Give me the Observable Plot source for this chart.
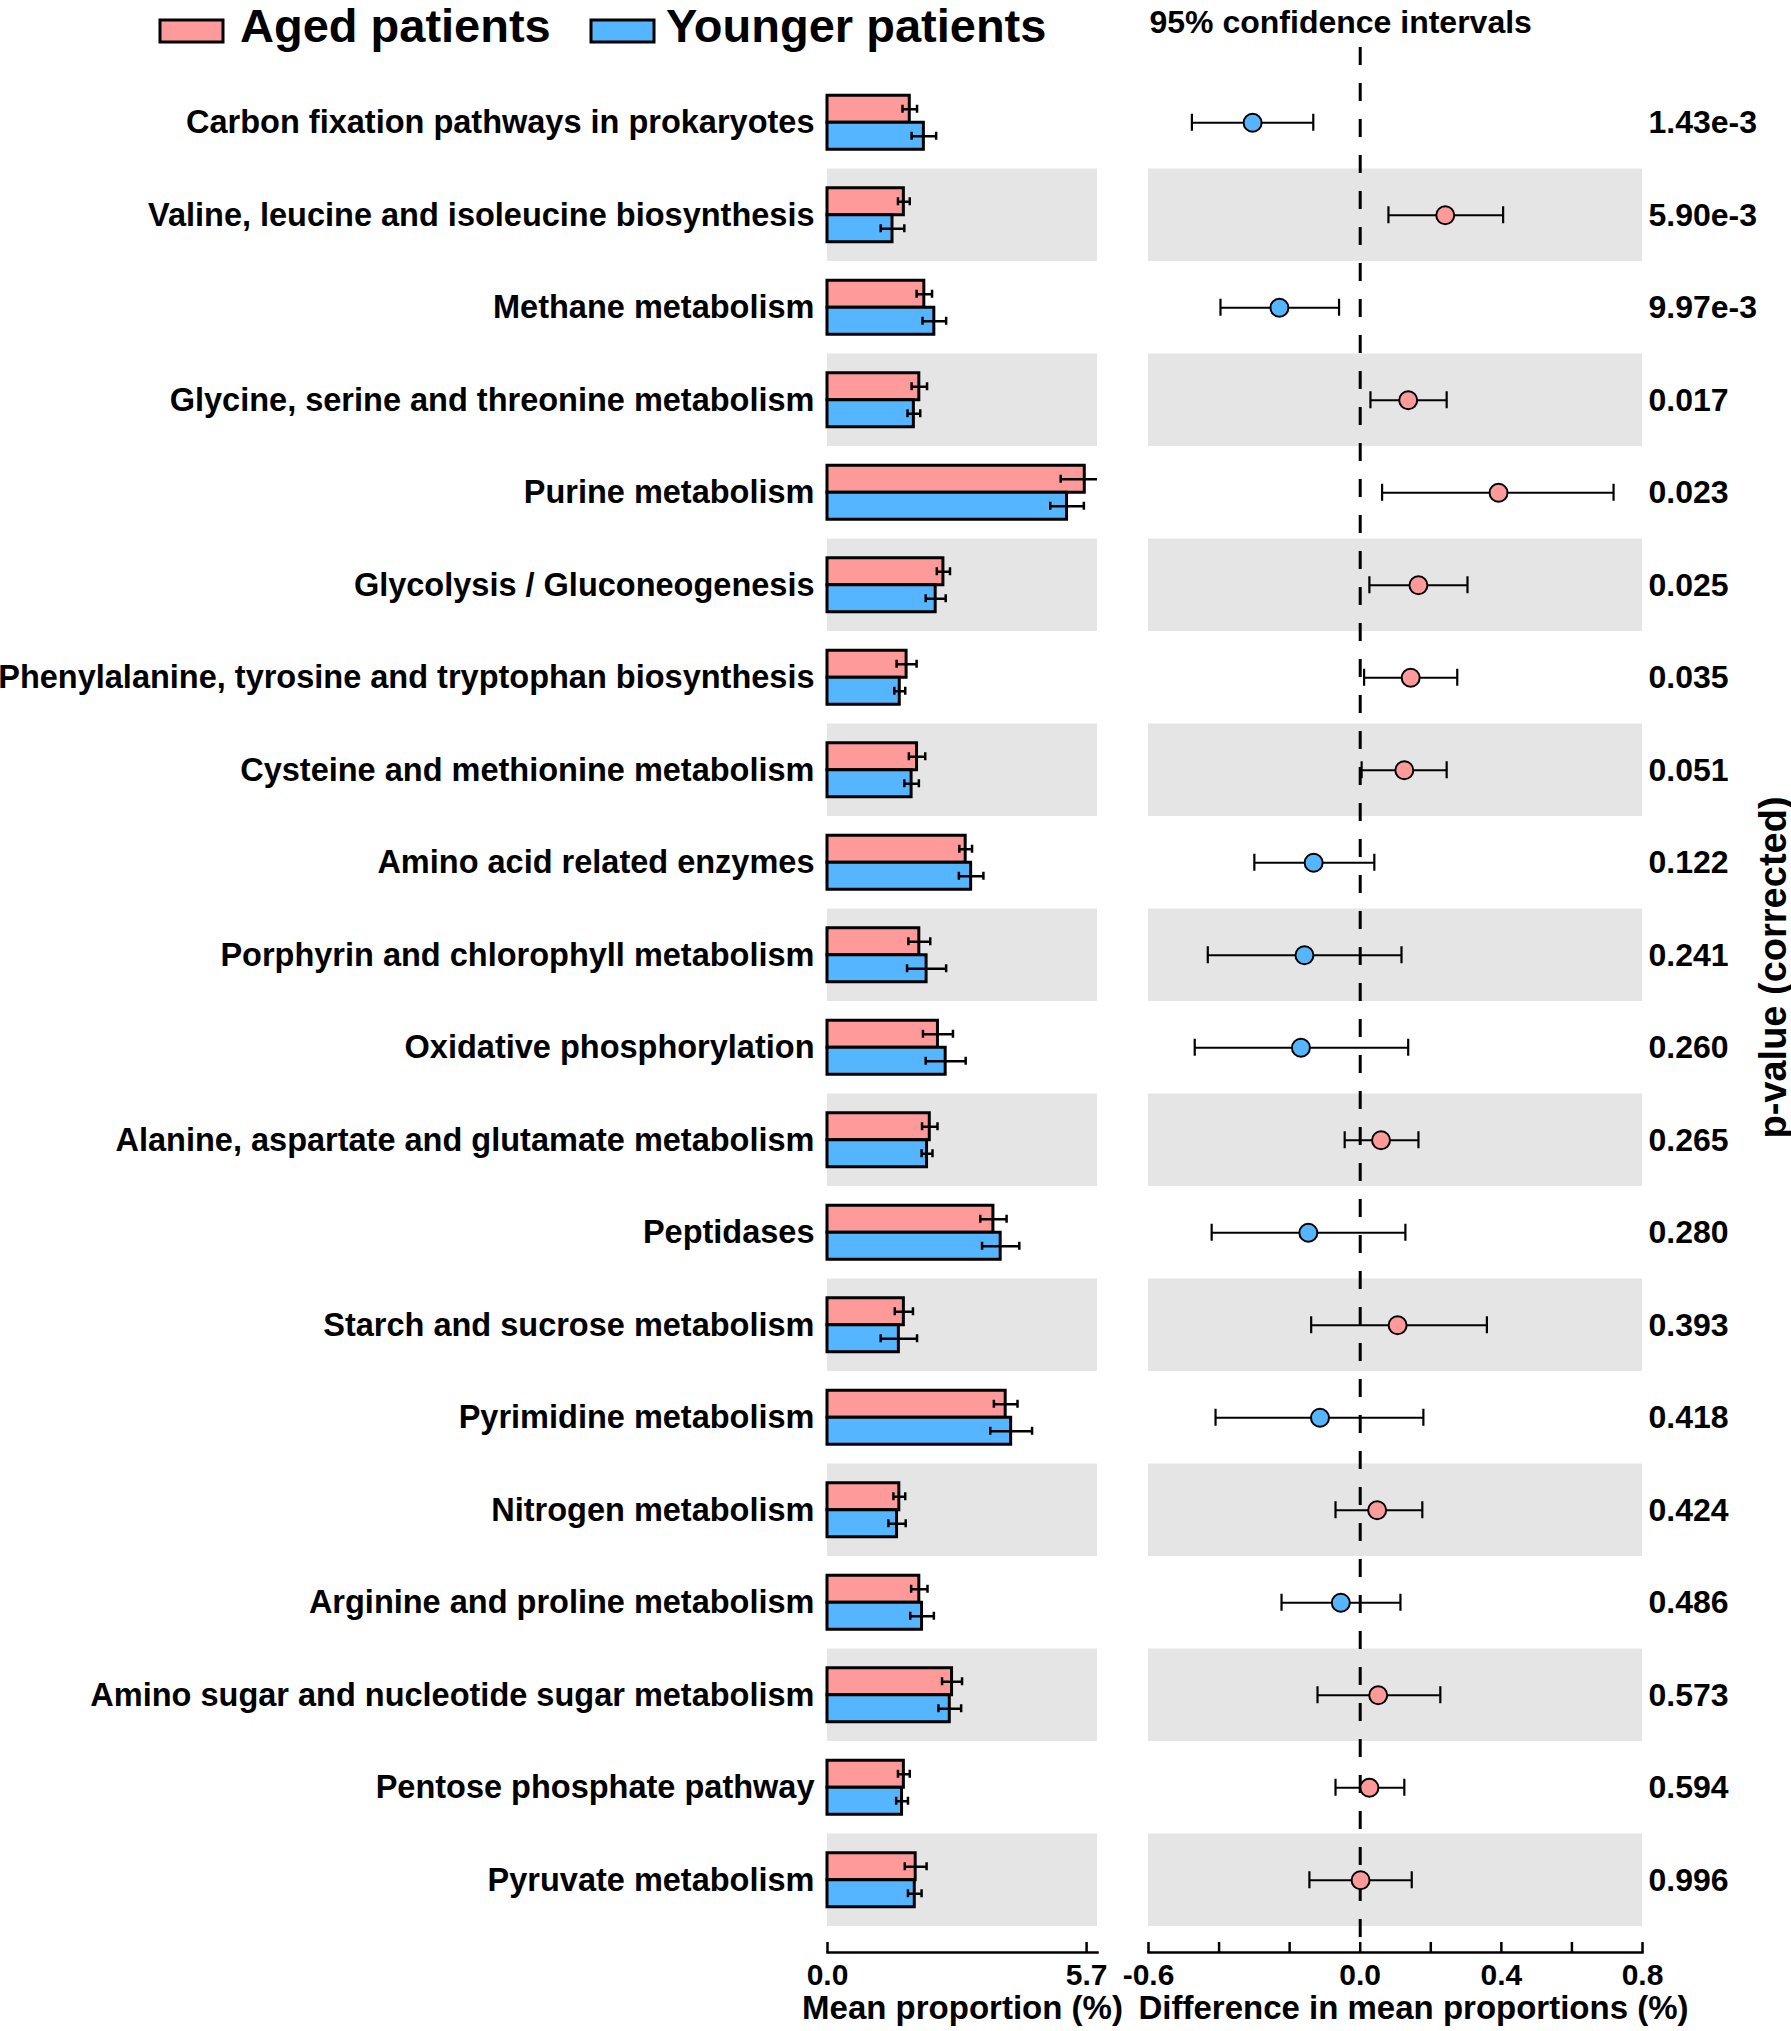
<!DOCTYPE html>
<html>
<head>
<meta charset="utf-8">
<script src="https://cdn.jsdelivr.net/npm/d3@7"></script>
<script src="https://cdn.jsdelivr.net/npm/@observablehq/plot@0.6"></script>
<style>
  body { margin: 0; background: #fff; }
  #wrap { position: relative; width: 1791px; height: 2031px; background: #fff; }
  #wrap > svg { position: absolute; top: 0; }
</style>
</head>
<body>
<div id="wrap"></div>
<script>
// ---------------- data ----------------
const categories = [
  "Carbon fixation pathways in prokaryotes",
  "Valine, leucine and isoleucine biosynthesis",
  "Methane metabolism",
  "Glycine, serine and threonine metabolism",
  "Purine metabolism",
  "Glycolysis / Gluconeogenesis",
  "Phenylalanine, tyrosine and tryptophan biosynthesis",
  "Cysteine and methionine metabolism",
  "Amino acid related enzymes",
  "Porphyrin and chlorophyll metabolism",
  "Oxidative phosphorylation",
  "Alanine, aspartate and glutamate metabolism",
  "Peptidases",
  "Starch and sucrose metabolism",
  "Pyrimidine metabolism",
  "Nitrogen metabolism",
  "Arginine and proline metabolism",
  "Amino sugar and nucleotide sugar metabolism",
  "Pentose phosphate pathway",
  "Pyruvate metabolism"
];
const agedMean  = [1.81, 1.68, 2.13, 2.02, 5.66, 2.55, 1.74, 1.97, 3.04, 2.02, 2.43, 2.25, 3.65, 1.68, 3.92, 1.58, 2.02, 2.74, 1.68, 1.94];
const agedErr   = [0.16, 0.13, 0.17, 0.17, 0.53, 0.145, 0.22, 0.18, 0.14, 0.24, 0.33, 0.17, 0.29, 0.20, 0.26, 0.13, 0.18, 0.22, 0.13, 0.24];
const youngMean = [2.12, 1.43, 2.35, 1.90, 5.27, 2.38, 1.59, 1.85, 3.16, 2.18, 2.60, 2.19, 3.81, 1.57, 4.04, 1.53, 2.08, 2.69, 1.64, 1.92];
const youngErr  = [0.27, 0.26, 0.26, 0.14, 0.37, 0.22, 0.12, 0.16, 0.27, 0.43, 0.44, 0.12, 0.41, 0.40, 0.46, 0.19, 0.26, 0.25, 0.13, 0.15];
const diffMean  = [-0.305, 0.241, -0.229, 0.136, 0.392, 0.165, 0.143, 0.125, -0.132, -0.158, -0.168, 0.059, -0.147, 0.106, -0.114, 0.048, -0.055, 0.051, 0.026, 0.001];
const ciLow     = [-0.477, 0.080, -0.396, 0.029, 0.062, 0.026, 0.011, 0.004, -0.300, -0.432, -0.469, -0.044, -0.421, -0.139, -0.410, -0.070, -0.223, -0.121, -0.070, -0.144];
const ciHigh    = [-0.133, 0.405, -0.060, 0.245, 0.718, 0.304, 0.275, 0.245, 0.040, 0.117, 0.136, 0.165, 0.128, 0.359, 0.179, 0.176, 0.114, 0.227, 0.125, 0.146];
const pValues   = ["1.43e-3", "5.90e-3", "9.97e-3", "0.017", "0.023", "0.025", "0.035", "0.051", "0.122", "0.241", "0.260", "0.265", "0.280", "0.393", "0.418", "0.424", "0.486", "0.573", "0.594", "0.996"];

const groups = ["Aged patients", "Younger patients"];
const groupColors = ["#ff9a9a", "#55b5fe"];
const meanTicks = [0, 5.7];
const meanDomain = [0, 5.94];
const diffTicks = [-0.6, -0.4, -0.2, 0, 0.2, 0.4, 0.6, 0.8];
const diffTickLabels = [-0.6, 0, 0.4, 0.8];
const diffDomain = [-0.6, 0.8];
const meanTitle = "Mean proportion (%)";
const diffTitle = "Difference in mean proportions (%)";
const ciTitle = "95% confidence intervals";
const pTitle = "p-value (corrected)";

// ---------------- layout ----------------
const H = 2031;
const bandTop = 76, bandBottom = 1926, axisLineY = 1952;
const bw = (bandBottom - bandTop) / categories.length; // 92.5
const barH = 27;
const FONT = "'Liberation Sans', Arial, Helvetica, sans-serif";
const shadeFill = "#e5e5e5";

const rows = categories.map((c, i) => ({
  cat: c,
  aged: agedMean[i], agedErr: agedErr[i],
  young: youngMean[i], youngErr: youngErr[i],
  diff: diffMean[i], lo: ciLow[i], hi: ciHigh[i], p: pValues[i],
  group: diffMean[i] >= 0 ? groups[0] : groups[1]
}));
const shaded = categories.filter((c, i) => i % 2 === 1);
const fmt = d => d.toFixed(1);

const half = bw / 2;
const agedTop = half - barH, agedBot = half;       // from band top
const youngTop = half, youngBot = half + barH;
const agedMid = (agedTop + agedBot) / 2, youngMid = (youngTop + youngBot) / 2;
const capHalf = 4;

// ---------------- left panel ----------------
const leftW = 1110;
const left = Plot.plot({
  width: leftW, height: H,
  marginLeft: 827, marginRight: leftW - 1097, marginTop: bandTop, marginBottom: H - axisLineY,
  style: {fontFamily: FONT, fontWeight: "bold", color: "black", background: "transparent", overflow: "visible"},
  x: {domain: meanDomain, label: null},
  y: {domain: categories, range: [bandTop, bandBottom], padding: 0, round: false, label: null},
  color: {domain: groups, range: groupColors},
  marks: [
    Plot.barX(shaded, {y: d => d, x1: meanDomain[0], x2: meanDomain[1], fill: shadeFill}),
    Plot.barX(rows, {y: "cat", x: "aged", fill: () => groups[0], stroke: "black", strokeWidth: 3,
      insetTop: agedTop, insetBottom: bw - agedBot}),
    Plot.barX(rows, {y: "cat", x: "young", fill: () => groups[1], stroke: "black", strokeWidth: 3,
      insetTop: youngTop, insetBottom: bw - youngBot}),
    // error bars
    Plot.ruleY(rows, {y: "cat", x1: d => d.aged - d.agedErr, x2: d => d.aged + d.agedErr,
      dy: agedMid - half, stroke: "black", strokeWidth: 2.5, clip: true}),
    Plot.ruleY(rows, {y: "cat", x1: d => d.young - d.youngErr, x2: d => d.young + d.youngErr,
      dy: youngMid - half, stroke: "black", strokeWidth: 2.5, clip: true}),
    ...["lo", "hi"].flatMap(side => [
      Plot.tickX(rows, {y: "cat", x: d => side === "lo" ? d.aged - d.agedErr : d.aged + d.agedErr,
        insetTop: agedMid - capHalf, insetBottom: bw - agedMid - capHalf,
        stroke: "black", strokeWidth: 2.5, clip: true}),
      Plot.tickX(rows, {y: "cat", x: d => side === "lo" ? d.young - d.youngErr : d.young + d.youngErr,
        insetTop: youngMid - capHalf, insetBottom: bw - youngMid - capHalf,
        stroke: "black", strokeWidth: 2.5, clip: true})
    ]),
    // axis
    Plot.frame({anchor: "bottom", strokeWidth: 2.5}),
    Plot.ruleX(meanTicks, {insetTop: axisLineY - bandTop - 10, strokeWidth: 2.5}),
    Plot.axisX(meanTicks, {tickSize: 0, tickPadding: 11, tickFormat: fmt, fontSize: 30}),
    Plot.axisY({tickSize: 0, tickPadding: 13, fontSize: 32.5}),
    Plot.text([meanTitle], {frameAnchor: "bottom", lineAnchor: "bottom", textAnchor: "middle", dy: 66, fontSize: 33})
  ]
});

// ---------------- right panel ----------------
const rightX = 1110;
const rightW = 1791 - rightX;
const rTop = 47;
const right = Plot.plot({
  width: rightW, height: H,
  marginLeft: 1148 - rightX, marginRight: rightW - (1642 - rightX), marginTop: rTop, marginBottom: H - axisLineY,
  style: {fontFamily: FONT, fontWeight: "bold", color: "black", background: "transparent", overflow: "visible"},
  x: {domain: diffDomain, label: null},
  y: {domain: categories, range: [bandTop, bandBottom], padding: 0, round: false, label: null, axis: null},
  color: {domain: groups, range: groupColors},
  marks: [
    Plot.barX(shaded, {y: d => d, x1: diffDomain[0], x2: diffDomain[1], fill: shadeFill}),
    Plot.ruleX([0], {strokeDasharray: "18,18", strokeWidth: 3}),
    Plot.ruleY(rows, {y: "cat", x1: "lo", x2: "hi", stroke: "black", strokeWidth: 2.2}),
    Plot.tickX(rows, {y: "cat", x: "lo", insetTop: half - 8.5, insetBottom: half - 8.5, stroke: "black", strokeWidth: 2.2}),
    Plot.tickX(rows, {y: "cat", x: "hi", insetTop: half - 8.5, insetBottom: half - 8.5, stroke: "black", strokeWidth: 2.2}),
    Plot.dot(rows, {y: "cat", x: "diff", r: 9, fill: "group", stroke: "black", strokeWidth: 2}),
    Plot.text(rows, {y: "cat", text: "p", frameAnchor: "right", dx: 6, textAnchor: "start", fontSize: 32}),
    // axis
    Plot.frame({anchor: "bottom", strokeWidth: 2.5}),
    Plot.ruleX(diffTicks, {insetTop: axisLineY - rTop - 10, strokeWidth: 2.5}),
    Plot.axisX(diffTickLabels, {tickSize: 0, tickPadding: 11, tickFormat: fmt, fontSize: 30}),
    Plot.text([diffTitle], {frameAnchor: "bottom", lineAnchor: "bottom", textAnchor: "middle", dy: 66, dx: 18, fontSize: 33}),
    Plot.text([ciTitle], {frameAnchor: "top-left", dy: 32 - rTop, dx: 1, lineAnchor: "bottom", textAnchor: "start", fontSize: 32}),
    Plot.text([pTitle], {frameAnchor: "right", textAnchor: "middle", lineAnchor: "middle",
      dx: 1773 - 1642, dy: 967 - (rTop + axisLineY) / 2, rotate: -90, fontSize: 38})
  ]
});

const wrap = document.getElementById("wrap");
left.style.left = "0px";
right.style.left = rightX + "px";
wrap.appendChild(left);
wrap.appendChild(right);

// ---------------- legend ----------------
const legendItems = groups.map((g, i) => ({label: g, color: groupColors[i], swatchX: [160, 591][i], textX: [240, 666][i]}));
const legBase = 42;
const leg = d3.create("svg")
  .attr("width", 1110).attr("height", 60)
  .style("left", "0px")
  .style("font-family", FONT).style("font-weight", "bold");
const gi = leg.selectAll("g").data(legendItems).join("g");
gi.append("rect")
  .attr("x", d => d.swatchX).attr("y", legBase - 22).attr("width", 63).attr("height", 22)
  .attr("fill", d => d.color).attr("stroke", "black").attr("stroke-width", 3);
gi.append("text")
  .attr("x", d => d.textX).attr("y", legBase)
  .attr("font-size", 47)
  .text(d => d.label);
wrap.appendChild(leg.node());
</script>
</body>
</html>
